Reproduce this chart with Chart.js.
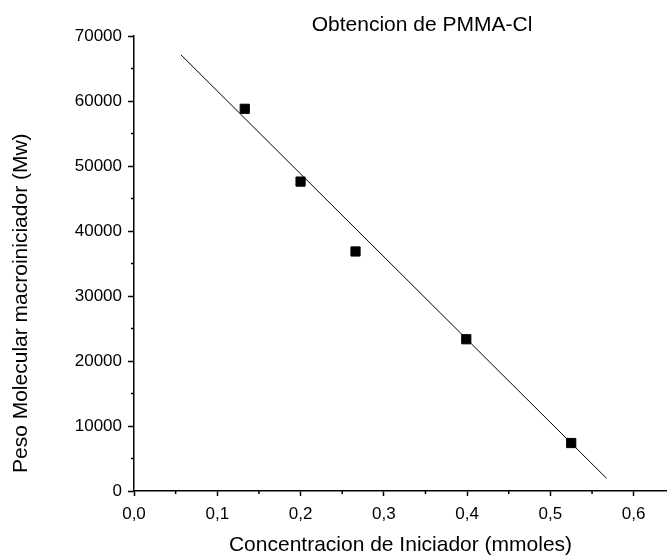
<!DOCTYPE html>
<html>
<head>
<meta charset="utf-8">
<script src="https://cdn.jsdelivr.net/npm/chart.js@4.4.1/dist/chart.umd.min.js"></script>
<style>
  html, body { margin: 0; padding: 0; background: #fff; }
  #wrap { width: 667px; height: 556px; }
</style>
</head>
<body>
<div id="wrap"><canvas id="chart" width="667" height="556"></canvas></div>
<script>
/* Mw del macroiniciador vs concentracion de iniciador */
const TITLE = 'Obtencion de PMMA-Cl';
const X_LABEL = 'Concentracion de Iniciador (mmoles)';
const Y_LABEL = 'Peso Molecular macroiniciador (Mw)';

// puntos experimentales
const conc = [0.133, 0.200, 0.266, 0.399, 0.525];
const mw   = [58800, 47600, 36850, 23350, 7380];

// recta de ajuste (extremos)
const fitX = [0.0564, 0.5674];
const fitY = [67100, 1950];

// ticks menores (sin etiqueta)
const xMinor = [0.05, 0.15, 0.25, 0.35, 0.45, 0.55];
const yMinor = [5000, 15000, 25000, 35000, 45000, 55000, 65000];

const FONT = "'Liberation Sans', Arial, sans-serif";

// minor ticks, titulo y titulos de ejes
const extras = {
  id: 'extras',
  afterDraw(chart) {
    const ctx = chart.ctx;
    const xs = chart.scales.x, ys = chart.scales.y;
    const area = chart.chartArea;
    ctx.save();
    ctx.strokeStyle = '#000';
    ctx.lineWidth = 1.5;
    ctx.beginPath();
    xMinor.forEach(v => {
      const px = xs.getPixelForValue(v);
      ctx.moveTo(px, ys.bottom);
      ctx.lineTo(px, ys.bottom + 3);
    });
    yMinor.forEach(v => {
      const py = ys.getPixelForValue(v);
      ctx.moveTo(xs.left, py);
      ctx.lineTo(xs.left - 3, py);
    });
    ctx.stroke();

    ctx.fillStyle = '#000';
    ctx.textBaseline = 'alphabetic';
    ctx.textAlign = 'center';

    ctx.font = '21px ' + FONT;
    ctx.fillText(TITLE, 422, 31);

    ctx.font = '21px ' + FONT;
    ctx.fillText(X_LABEL, (area.left + area.right) / 2, 551);

    ctx.translate(27, 473);
    ctx.rotate(-Math.PI / 2);
    ctx.textAlign = 'left';
    ctx.fillText(Y_LABEL, 0, 0);
    ctx.restore();
  }
};

new Chart(document.getElementById('chart'), {
  type: 'scatter',
  data: {
    datasets: [
      {
        label: 'Mw',
        data: conc.map((x, i) => ({ x, y: mw[i] })),
        pointStyle: 'rect',
        pointRadius: 6.5,
        backgroundColor: '#000',
        borderColor: '#000',
        borderWidth: 1,
        showLine: false,
      },
      {
        label: 'ajuste',
        data: fitX.map((x, i) => ({ x, y: fitY[i] })),
        showLine: true,
        borderColor: '#000',
        borderWidth: 1,
        pointRadius: 0,
        fill: false,
      }
    ]
  },
  options: {
    responsive: false,
    devicePixelRatio: 1,
    animation: false,
    layout: { autoPadding: false, padding: { top: 36, right: 0, bottom: 0, left: 0 } },
    plugins: {
      legend: { display: false },
      tooltip: { enabled: false },
      title: { display: false }
    },
    scales: {
      x: {
        type: 'linear',
        min: 0,
        max: 0.64,
        border: { color: '#000', width: 1.5 },
        grid: { drawOnChartArea: false, drawTicks: true, tickLength: 5, tickColor: '#000', tickWidth: 1.5 },
        ticks: {
          stepSize: 0.1,
          includeBounds: false,
          color: '#000',
          padding: 8,
          maxRotation: 0,
          font: { family: FONT, size: 17 },
          callback: v => v.toFixed(1).replace('.', ',')
        },
        afterFit: s => { s.height = 65; s.paddingLeft = 0; s.paddingRight = 0; }
      },
      y: {
        type: 'linear',
        min: 0,
        max: 70000,
        border: { color: '#000', width: 1.5 },
        grid: { drawOnChartArea: false, drawTicks: true, tickLength: 6, tickColor: '#000', tickWidth: 1.5 },
        ticks: {
          stepSize: 10000,
          color: '#000',
          padding: 6,
          font: { family: FONT, size: 17 },
          callback: v => String(v)
        },
        afterFit: s => { s.width = 134; s.paddingTop = 0; s.paddingBottom = 0; }
      }
    }
  },
  plugins: [extras]
});
</script>
</body>
</html>
